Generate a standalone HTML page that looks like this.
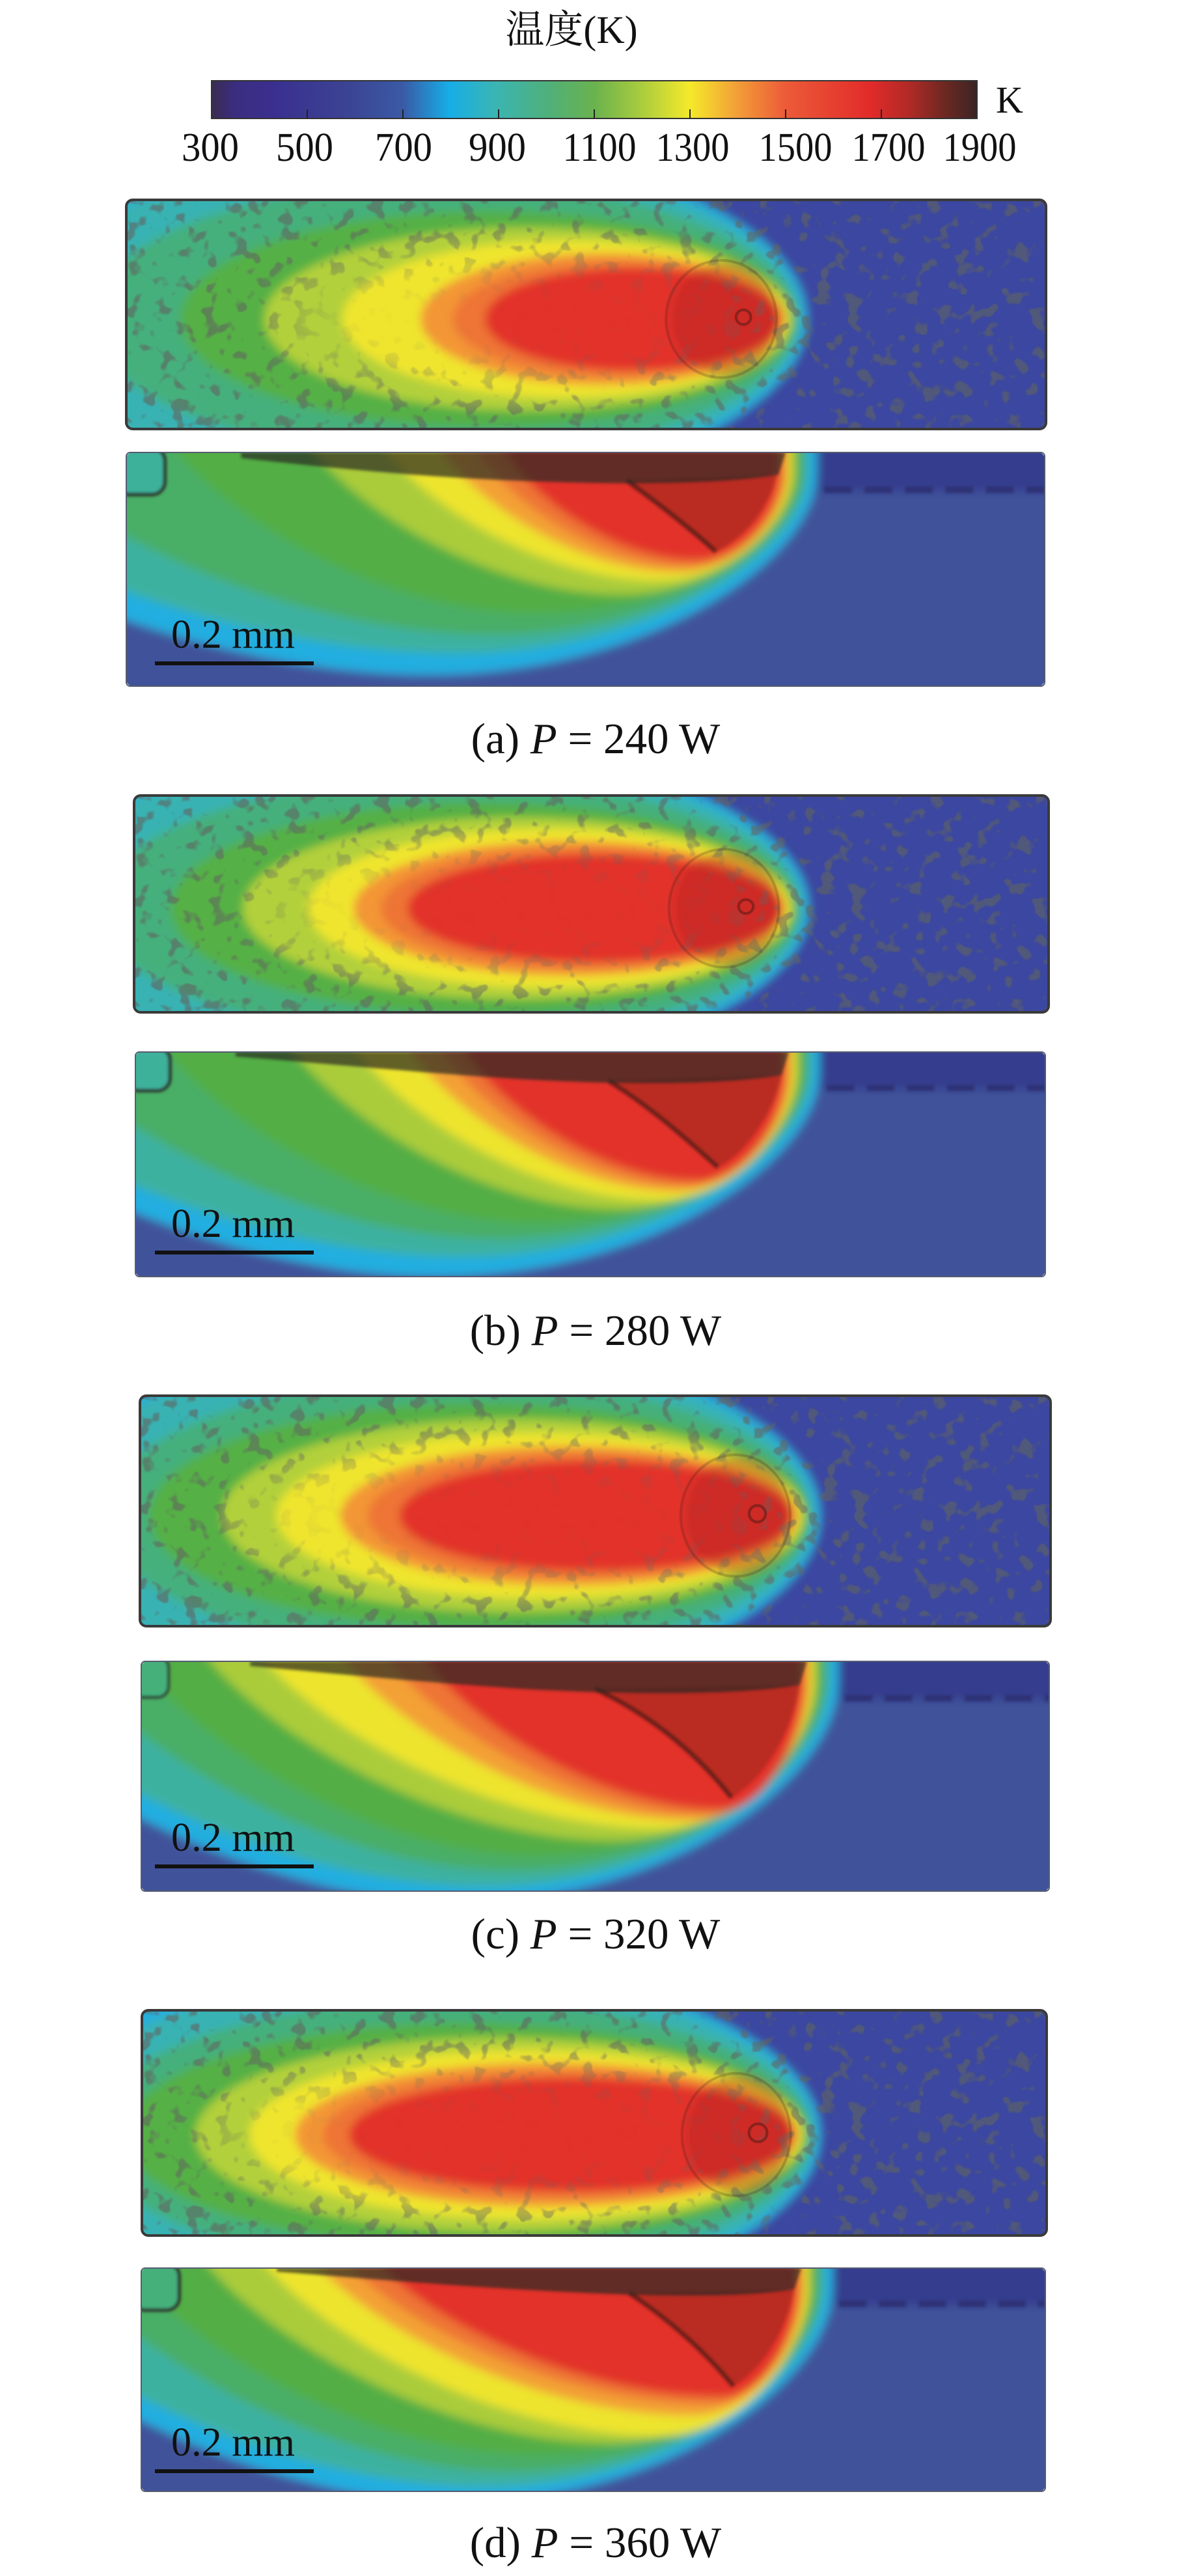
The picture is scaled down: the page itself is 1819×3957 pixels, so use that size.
<!DOCTYPE html>
<html><head><meta charset="utf-8">
<style>html,body{margin:0;padding:0;background:#fff;}svg{display:block}</style>
</head><body>
<svg width="1819" height="3957" viewBox="0 0 1819 3957" xmlns="http://www.w3.org/2000/svg">
<defs>
<linearGradient id="cb" x1="0" x2="1" y1="0" y2="0">
<stop offset="0" stop-color="#3a2c4f"/>
<stop offset="0.03" stop-color="#3a2d80"/>
<stop offset="0.08" stop-color="#3a2f8f"/>
<stop offset="0.18" stop-color="#3b4494"/>
<stop offset="0.25" stop-color="#3a5aa5"/>
<stop offset="0.31" stop-color="#17ade6"/>
<stop offset="0.37" stop-color="#3ab5b4"/>
<stop offset="0.44" stop-color="#4fb07a"/>
<stop offset="0.5" stop-color="#6ab24e"/>
<stop offset="0.56" stop-color="#a8cb3e"/>
<stop offset="0.625" stop-color="#f5ea2a"/>
<stop offset="0.69" stop-color="#f29a38"/>
<stop offset="0.75" stop-color="#ec5b38"/>
<stop offset="0.86" stop-color="#e22b2a"/>
<stop offset="0.91" stop-color="#b22a26"/>
<stop offset="0.96" stop-color="#6a2822"/>
<stop offset="1" stop-color="#3a2424"/>
</linearGradient>
<filter id="bl" x="-5%" y="-5%" width="110%" height="110%"><feGaussianBlur stdDeviation="5"/></filter>
<filter id="bl2" x="-5%" y="-20%" width="110%" height="140%"><feGaussianBlur stdDeviation="1.5"/></filter>
<filter id="bl3" x="-50%" y="-50%" width="200%" height="200%"><feGaussianBlur stdDeviation="30"/></filter>
<filter id="sp" x="0" y="0" width="1" height="1"><feTurbulence type="fractalNoise" baseFrequency="0.06" numOctaves="2" seed="7"/><feColorMatrix type="matrix" values="0 0 0 0 0.12  0 0 0 0 0.13  0 0 0 0 0.12  9 0 0 0 -5.1"/></filter>
<clipPath id="rr"><rect x="0" y="0" width="1000" height="250" rx="7" ry="7"/></clipPath>
<mask id="mA"><rect x="-50" y="-50" width="1100" height="350" fill="#fff"/><ellipse cx="430" cy="130" rx="275" ry="70" fill="#000" filter="url(#bl3)"/></mask>
<mask id="mB"><rect x="-50" y="-50" width="1100" height="350" fill="#fff"/><ellipse cx="410" cy="130" rx="295" ry="72" fill="#000" filter="url(#bl3)"/></mask>
<mask id="mC"><rect x="-50" y="-50" width="1100" height="350" fill="#fff"/><ellipse cx="400" cy="130" rx="310" ry="72" fill="#000" filter="url(#bl3)"/></mask>
<mask id="mD"><rect x="-50" y="-50" width="1100" height="350" fill="#fff"/><ellipse cx="385" cy="138" rx="325" ry="74" fill="#000" filter="url(#bl3)"/></mask>
</defs>
<rect width="1819" height="3957" fill="#fff"/>

<!-- Title and colorbar -->
<text x="878" y="66" font-family="Liberation Serif, 'Noto Serif CJK SC', serif" font-size="60" text-anchor="middle" fill="#111">温度(K)</text>
<rect x="325" y="124" width="1176" height="58" fill="url(#cb)" stroke="#333" stroke-width="2"/>
<g stroke="#222" stroke-width="2">
<line x1="472" y1="168" x2="472" y2="182"/><line x1="619" y1="168" x2="619" y2="182"/><line x1="766" y1="168" x2="766" y2="182"/><line x1="913" y1="168" x2="913" y2="182"/><line x1="1060" y1="168" x2="1060" y2="182"/><line x1="1207" y1="168" x2="1207" y2="182"/><line x1="1354" y1="168" x2="1354" y2="182"/>
</g>
<g font-family="Liberation Serif, serif" font-size="62" text-anchor="middle" fill="#111">
<text x="323" y="247" textLength="88" lengthAdjust="spacingAndGlyphs">300</text>
<text x="468" y="247" textLength="88" lengthAdjust="spacingAndGlyphs">500</text>
<text x="620" y="247" textLength="88" lengthAdjust="spacingAndGlyphs">700</text>
<text x="764" y="247" textLength="88" lengthAdjust="spacingAndGlyphs">900</text>
<text x="921" y="247" textLength="113" lengthAdjust="spacingAndGlyphs">1100</text>
<text x="1064" y="247" textLength="113" lengthAdjust="spacingAndGlyphs">1300</text>
<text x="1222" y="247" textLength="113" lengthAdjust="spacingAndGlyphs">1500</text>
<text x="1365" y="247" textLength="113" lengthAdjust="spacingAndGlyphs">1700</text>
<text x="1505" y="247" textLength="113" lengthAdjust="spacingAndGlyphs">1900</text>
</g>
<text x="1530" y="173" font-family="Liberation Serif, serif" font-size="58" fill="#111">K</text>

<!-- ===== (a) top ===== -->
<svg x="194" y="307" width="1413" height="352" viewBox="0 0 1000 250" preserveAspectRatio="none">
<g clip-path="url(#rr)">
<g filter="url(#bl)">
<rect x="-30" y="-30" width="1060" height="310" fill="#3b47a0"/>
<ellipse cx="270" cy="130" rx="470" ry="195" fill="#26aedd"/>
<ellipse cx="306" cy="130" rx="427" ry="178" fill="#38b2b2"/>
<ellipse cx="345" cy="130" rx="385" ry="150" fill="#45b07c"/>
<ellipse cx="393" cy="130" rx="334" ry="118" fill="#55b045"/>
<ellipse cx="437" cy="130" rx="287" ry="100" fill="#b2d03b"/>
<ellipse cx="477" cy="130" rx="242" ry="86" fill="#efe52d"/>
<ellipse cx="518" cy="130" rx="198" ry="72" fill="#f39636"/>
<ellipse cx="534" cy="130" rx="179" ry="63" fill="#ee7434"/>
<ellipse cx="550" cy="130" rx="160" ry="56" fill="#e2302a"/>
<ellipse cx="650" cy="130" rx="58" ry="62" fill="#a8241f" opacity=".35"/>
</g>
<rect x="0" y="0" width="1000" height="250" fill="#000" filter="url(#sp)" mask="url(#mA)" opacity=".6"/>
<ellipse cx="647" cy="130" rx="60" ry="64" fill="none" stroke="#2a1410" stroke-width="3" opacity=".2"/>
<circle cx="671" cy="128" r="8" fill="none" stroke="#2a1410" stroke-width="3" opacity=".4"/>
</g>
</svg>
<rect x="194" y="307" width="1413" height="352" rx="10" fill="none" stroke="#3a3a3a" stroke-width="4"/>

<!-- ===== (a) bottom ===== -->
<svg x="194" y="695" width="1411" height="359" viewBox="0 0 1000 250" preserveAspectRatio="none">
<g clip-path="url(#rr)">
<g filter="url(#bl)">
<rect x="-30" y="-30" width="1060" height="310" fill="#41539a"/>
<path d="M-350,-20 L752,-20 L752,20 C752,118 562,238 330,238 C58,238 -248,95 -350,-20Z" fill="#22aee0"/>
<path d="M-300,-20 L742,-20 L742,20 C742,108 570,215 360,215 C96,215 -201,86 -300,-20Z" fill="#3cb1a0"/>
<path d="M-150,-20 L737,-20 L737,20 C737,99 585,195 400,195 C180,195 -68,78 -150,-20Z" fill="#4aae66"/>
<path d="M40,-20 L733,-20 L733,20 C733,88 603,172 444,172 C282,172 101,69 40,-20Z" fill="#52ae45"/>
<path d="M190,-20 L728,-20 L728,20 C728,79 643,152 540,152 C400,152 242,61 190,-20Z" fill="#aacc3a"/>
<path d="M270,-20 L724,-20 L724,20 C724,73 659,137 580,137 C456,137 316,55 270,-20Z" fill="#ede42e"/>
<path d="M330,-20 L720,-20 L720,20 C720,69 666,128 600,128 C492,128 371,51 330,-20Z" fill="#f3a035"/>
<path d="M370,-20 L716,-20 L716,20 C716,66 669,122 612,122 C515,122 406,49 370,-20Z" fill="#ee7434"/>
<path d="M400,-20 L712,-20 L712,20 C712,63 671,115 620,115 C532,115 433,46 400,-20Z" fill="#e2302a"/>
<rect x="752" y="-30" width="300" height="72" fill="#363d8e"/>
</g>
<g filter="url(#bl2)">
<path d="M545,30 L708,24 C700,60 672,92 642,106 C615,82 580,55 545,30Z" fill="#8a221c" opacity=".45"/>
<path d="M545,30 C580,55 615,82 642,106" fill="none" stroke="#2a1510" stroke-width="5" opacity=".6"/>
<path d="M125,0 L718,0 L710,24 C640,36 520,34 420,30 C300,25 200,14 125,6Z" fill="#2b2a22" opacity=".7"/>
<line x1="760" y1="40" x2="1000" y2="40" stroke="#2b2c6c" stroke-width="7" stroke-dasharray="30 14" opacity=".7"/>
<rect x="-10" y="-5" width="52" height="50" rx="14" fill="#3db19a" stroke="#2d3a30" stroke-width="4"/>
</g>
</g>
</svg>
<rect x="194" y="695" width="1411" height="359" rx="6" fill="none" stroke="#555c70" stroke-width="2"/>
<text x="263" y="995" font-family="Liberation Serif, serif" font-size="62" fill="#111" textLength="190" lengthAdjust="spacingAndGlyphs">0.2 mm</text>
<line x1="238" y1="1019" x2="482" y2="1019" stroke="#111" stroke-width="6"/>
<text x="915" y="1157" font-family="Liberation Serif, serif" font-size="67" text-anchor="middle" fill="#111">(a) <tspan font-style="italic">P</tspan> = 240 W</text>

<!-- ===== (b) top ===== -->
<svg x="206" y="1222" width="1405" height="333" viewBox="0 0 1000 250" preserveAspectRatio="none">
<g clip-path="url(#rr)">
<g filter="url(#bl)">
<rect x="-30" y="-30" width="1060" height="310" fill="#3b47a0"/>
<ellipse cx="268" cy="130" rx="470" ry="195" fill="#26aedd"/>
<ellipse cx="304" cy="130" rx="427" ry="178" fill="#38b2b2"/>
<ellipse cx="344" cy="130" rx="384" ry="150" fill="#45b07c"/>
<ellipse cx="382" cy="130" rx="342" ry="122" fill="#55b045"/>
<ellipse cx="420" cy="130" rx="301" ry="105" fill="#b2d03b"/>
<ellipse cx="453" cy="130" rx="263" ry="92" fill="#efe52d"/>
<ellipse cx="476" cy="130" rx="236" ry="78" fill="#f39636"/>
<ellipse cx="490" cy="130" rx="220" ry="70" fill="#ee7434"/>
<ellipse cx="503" cy="130" rx="204" ry="62" fill="#e2302a"/>
<ellipse cx="648" cy="130" rx="58" ry="66" fill="#a8241f" opacity=".35"/>
</g>
<rect x="0" y="0" width="1000" height="250" fill="#000" filter="url(#sp)" mask="url(#mB)" opacity=".6"/>
<ellipse cx="645" cy="130" rx="60" ry="68" fill="none" stroke="#2a1410" stroke-width="3" opacity=".2"/>
<circle cx="669" cy="128" r="8" fill="none" stroke="#2a1410" stroke-width="3" opacity=".4"/>
</g>
</svg>
<rect x="206" y="1222" width="1405" height="333" rx="10" fill="none" stroke="#3a3a3a" stroke-width="4"/>

<!-- ===== (b) bottom ===== -->
<svg x="208" y="1616" width="1398" height="345" viewBox="0 0 1000 250" preserveAspectRatio="none">
<g clip-path="url(#rr)">
<g filter="url(#bl)">
<rect x="-30" y="-30" width="1060" height="310" fill="#41539a"/>
<path d="M-300,-20 L752,-20 L752,20 C752,124 562,250 330,250 C78,250 -205,100 -300,-20Z" fill="#22aee0"/>
<path d="M-260,-20 L743,-20 L743,20 C743,114 571,228 360,228 C112,228 -167,91 -260,-20Z" fill="#3cb1a0"/>
<path d="M-120,-20 L738,-20 L738,20 C738,105 586,208 400,208 C192,208 -42,83 -120,-20Z" fill="#4aae66"/>
<path d="M20,-20 L734,-20 L734,20 C734,97 602,190 440,190 C272,190 83,76 20,-20Z" fill="#52ae45"/>
<path d="M160,-20 L729,-20 L729,20 C729,90 640,175 530,175 C382,175 216,70 160,-20Z" fill="#aacc3a"/>
<path d="M230,-20 L725,-20 L725,20 C725,85 658,165 575,165 C437,165 282,66 230,-20Z" fill="#ede42e"/>
<path d="M290,-20 L721,-20 L721,20 C721,81 664,155 595,155 C473,155 336,62 290,-20Z" fill="#f3a035"/>
<path d="M325,-20 L717,-20 L717,20 C717,78 668,149 608,149 C495,149 367,60 325,-20Z" fill="#ee7434"/>
<path d="M350,-20 L713,-20 L713,20 C713,75 670,143 618,143 C511,143 390,57 350,-20Z" fill="#e2302a"/>
<rect x="752" y="-30" width="300" height="72" fill="#363d8e"/>
</g>
<g filter="url(#bl2)">
<path d="M520,32 L710,26 C702,65 672,112 640,128 C605,96 565,60 520,32Z" fill="#8a221c" opacity=".45"/>
<path d="M520,32 C565,60 605,96 640,128" fill="none" stroke="#2a1510" stroke-width="5" opacity=".6"/>
<path d="M110,0 L718,0 L710,26 C640,38 520,36 420,30 C300,22 200,12 110,5Z" fill="#2b2a22" opacity=".7"/>
<line x1="760" y1="40" x2="1000" y2="40" stroke="#2b2c6c" stroke-width="7" stroke-dasharray="30 14" opacity=".7"/>
<rect x="-10" y="-5" width="48" height="48" rx="14" fill="#3db19a" stroke="#2d3a30" stroke-width="4"/>
</g>
</g>
</svg>
<rect x="208" y="1616" width="1398" height="345" rx="6" fill="none" stroke="#555c70" stroke-width="2"/>
<text x="263" y="1900" font-family="Liberation Serif, serif" font-size="62" fill="#111" textLength="190" lengthAdjust="spacingAndGlyphs">0.2 mm</text>
<line x1="238" y1="1924" x2="482" y2="1924" stroke="#111" stroke-width="6"/>
<text x="915" y="2066" font-family="Liberation Serif, serif" font-size="67" text-anchor="middle" fill="#111">(b) <tspan font-style="italic">P</tspan> = 280 W</text>

<!-- ===== (c) top ===== -->
<svg x="215" y="2144" width="1399" height="354" viewBox="0 0 1000 250" preserveAspectRatio="none">
<g clip-path="url(#rr)">
<g filter="url(#bl)">
<rect x="-30" y="-30" width="1060" height="310" fill="#3b47a0"/>
<ellipse cx="277" cy="130" rx="470" ry="195" fill="#26aedd"/>
<ellipse cx="313" cy="130" rx="427" ry="178" fill="#38b2b2"/>
<ellipse cx="348" cy="130" rx="388" ry="150" fill="#45b07c"/>
<ellipse cx="372" cy="130" rx="362" ry="122" fill="#55b045"/>
<ellipse cx="410" cy="130" rx="320" ry="105" fill="#b2d03b"/>
<ellipse cx="438" cy="130" rx="288" ry="90" fill="#efe52d"/>
<ellipse cx="471" cy="130" rx="251" ry="76" fill="#f39636"/>
<ellipse cx="484" cy="130" rx="234" ry="68" fill="#ee7434"/>
<ellipse cx="500" cy="130" rx="215" ry="60" fill="#e2302a"/>
<ellipse cx="657" cy="130" rx="58" ry="64" fill="#a8241f" opacity=".35"/>
</g>
<rect x="0" y="0" width="1000" height="250" fill="#000" filter="url(#sp)" mask="url(#mC)" opacity=".6"/>
<ellipse cx="654" cy="130" rx="60" ry="66" fill="none" stroke="#2a1410" stroke-width="3" opacity=".2"/>
<circle cx="678" cy="128" r="9" fill="none" stroke="#2a1410" stroke-width="3" opacity=".4"/>
</g>
</svg>
<rect x="215" y="2144" width="1399" height="354" rx="10" fill="none" stroke="#3a3a3a" stroke-width="4"/>

<!-- ===== (c) bottom ===== -->
<svg x="217" y="2552" width="1395" height="353" viewBox="0 0 1000 250" preserveAspectRatio="none">
<g clip-path="url(#rr)">
<g filter="url(#bl)">
<rect x="-30" y="-30" width="1060" height="310" fill="#41539a"/>
<path d="M-250,-20 L768,-20 L768,20 C768,129 580,262 350,262 C110,262 -160,105 -250,-20Z" fill="#22aee0"/>
<path d="M-220,-20 L758,-20 L758,20 C758,121 588,245 380,245 C140,245 -130,98 -220,-20Z" fill="#3cb1a0"/>
<path d="M-100,-20 L753,-20 L753,20 C753,114 599,228 410,228 C206,228 -23,91 -100,-20Z" fill="#4aae66"/>
<path d="M-20,-20 L749,-20 L749,20 C749,106 607,211 434,211 C252,211 48,84 -20,-20Z" fill="#52ae45"/>
<path d="M60,-20 L744,-20 L744,20 C744,99 643,195 520,195 C336,195 129,78 60,-20Z" fill="#aacc3a"/>
<path d="M120,-20 L740,-20 L740,20 C740,93 664,182 572,182 C391,182 188,73 120,-20Z" fill="#ede42e"/>
<path d="M210,-20 L736,-20 L736,20 C736,89 677,173 605,173 C447,173 269,69 210,-20Z" fill="#f3a035"/>
<path d="M260,-20 L732,-20 L732,20 C732,86 684,167 625,167 C479,167 315,67 260,-20Z" fill="#ee7434"/>
<path d="M300,-20 L728,-20 L728,20 C728,83 689,161 641,161 C505,161 351,64 300,-20Z" fill="#e2302a"/>
<rect x="768" y="-30" width="300" height="72" fill="#363d8e"/>
</g>
<g filter="url(#bl2)">
<path d="M500,30 L725,26 C718,70 690,125 650,148 C620,110 570,62 500,30Z" fill="#8a221c" opacity=".45"/>
<path d="M500,30 C570,62 620,110 650,148" fill="none" stroke="#2a1510" stroke-width="5" opacity=".6"/>
<path d="M120,0 L733,0 L725,26 C650,38 530,36 420,30 C300,22 200,12 120,5Z" fill="#2b2a22" opacity=".7"/>
<line x1="775" y1="40" x2="1000" y2="40" stroke="#2b2c6c" stroke-width="7" stroke-dasharray="30 14" opacity=".7"/>
<rect x="-10" y="-5" width="40" height="44" rx="12" fill="#45b07a" stroke="#2d3a30" stroke-width="3"/>
</g>
</g>
</svg>
<rect x="217" y="2552" width="1395" height="353" rx="6" fill="none" stroke="#555c70" stroke-width="2"/>
<text x="263" y="2843" font-family="Liberation Serif, serif" font-size="62" fill="#111" textLength="190" lengthAdjust="spacingAndGlyphs">0.2 mm</text>
<line x1="238" y1="2867" x2="482" y2="2867" stroke="#111" stroke-width="6"/>
<text x="915" y="2993" font-family="Liberation Serif, serif" font-size="67" text-anchor="middle" fill="#111">(c) <tspan font-style="italic">P</tspan> = 320 W</text>

<!-- ===== (d) top ===== -->
<svg x="218" y="3088" width="1390" height="346" viewBox="0 0 1000 250" preserveAspectRatio="none">
<g clip-path="url(#rr)">
<g filter="url(#bl)">
<rect x="-30" y="-30" width="1060" height="310" fill="#3b47a0"/>
<ellipse cx="280" cy="138" rx="470" ry="195" fill="#26aedd"/>
<ellipse cx="316" cy="138" rx="427" ry="178" fill="#38b2b2"/>
<ellipse cx="340" cy="138" rx="400" ry="150" fill="#45b07c"/>
<ellipse cx="358" cy="138" rx="378" ry="124" fill="#55b045"/>
<ellipse cx="396" cy="138" rx="337" ry="108" fill="#b2d03b"/>
<ellipse cx="424" cy="138" rx="305" ry="94" fill="#efe52d"/>
<ellipse cx="447" cy="138" rx="278" ry="80" fill="#f39636"/>
<ellipse cx="461" cy="138" rx="261" ry="71" fill="#ee7434"/>
<ellipse cx="474" cy="138" rx="245" ry="63" fill="#e2302a"/>
<ellipse cx="660" cy="138" rx="58" ry="66" fill="#a8241f" opacity=".35"/>
</g>
<rect x="0" y="0" width="1000" height="250" fill="#000" filter="url(#sp)" mask="url(#mD)" opacity=".6"/>
<ellipse cx="657" cy="138" rx="60" ry="68" fill="none" stroke="#2a1410" stroke-width="3" opacity=".2"/>
<circle cx="681" cy="136" r="10" fill="none" stroke="#2a1410" stroke-width="3" opacity=".4"/>
</g>
</svg>
<rect x="218" y="3088" width="1390" height="346" rx="10" fill="none" stroke="#3a3a3a" stroke-width="4"/>

<!-- ===== (d) bottom ===== -->
<svg x="217" y="3484" width="1389" height="343" viewBox="0 0 1000 250" preserveAspectRatio="none">
<g clip-path="url(#rr)">
<g filter="url(#bl)">
<rect x="-30" y="-30" width="1060" height="310" fill="#41539a"/>
<path d="M-250,-20 L765,-20 L765,20 C765,129 578,262 350,262 C110,262 -160,105 -250,-20Z" fill="#22aee0"/>
<path d="M-220,-20 L755,-20 L755,20 C755,121 586,245 380,245 C140,245 -130,98 -220,-20Z" fill="#3cb1a0"/>
<path d="M-100,-20 L750,-20 L750,20 C750,114 597,228 410,228 C206,228 -23,91 -100,-20Z" fill="#4aae66"/>
<path d="M-30,-20 L746,-20 L746,20 C746,103 607,209 436,209 C250,209 40,84 -30,-20Z" fill="#52ae45"/>
<path d="M60,-20 L741,-20 L741,20 C741,99 641,196 520,196 C336,196 129,78 60,-20Z" fill="#aacc3a"/>
<path d="M124,-20 L737,-20 L737,20 C737,96 664,188 575,188 C395,188 192,75 124,-20Z" fill="#ede42e"/>
<path d="M180,-20 L733,-20 L733,20 C733,85 678,165 610,165 C438,165 245,66 180,-20Z" fill="#f3a035"/>
<path d="M215,-20 L729,-20 L729,20 C729,77 684,152 630,152 C464,152 277,61 215,-20Z" fill="#ee7434"/>
<path d="M250,-20 L725,-20 L725,20 C725,76 689,144 644,144 C486,144 309,58 250,-20Z" fill="#e2302a"/>
<rect x="765" y="-30" width="300" height="72" fill="#363d8e"/>
</g>
<g filter="url(#bl2)">
<path d="M540,28 L722,24 C715,65 688,112 655,132 C625,95 585,58 540,28Z" fill="#8a221c" opacity=".45"/>
<path d="M540,28 C585,58 625,95 655,132" fill="none" stroke="#2a1510" stroke-width="5" opacity=".6"/>
<path d="M150,0 L730,0 L722,24 C650,36 520,30 420,24 C320,18 230,10 150,4Z" fill="#2b2a22" opacity=".7"/>
<line x1="772" y1="40" x2="1000" y2="40" stroke="#2b2c6c" stroke-width="7" stroke-dasharray="30 14" opacity=".7"/>
<rect x="-10" y="-5" width="52" height="52" rx="14" fill="#45b07a" stroke="#2d3a30" stroke-width="4"/>
</g>
</g>
</svg>
<rect x="217" y="3484" width="1389" height="343" rx="6" fill="none" stroke="#555c70" stroke-width="2"/>
<text x="263" y="3772" font-family="Liberation Serif, serif" font-size="62" fill="#111" textLength="190" lengthAdjust="spacingAndGlyphs">0.2 mm</text>
<line x1="238" y1="3796" x2="482" y2="3796" stroke="#111" stroke-width="6"/>
<text x="915" y="3928" font-family="Liberation Serif, serif" font-size="67" text-anchor="middle" fill="#111">(d) <tspan font-style="italic">P</tspan> = 360 W</text>
</svg>
</body></html>
